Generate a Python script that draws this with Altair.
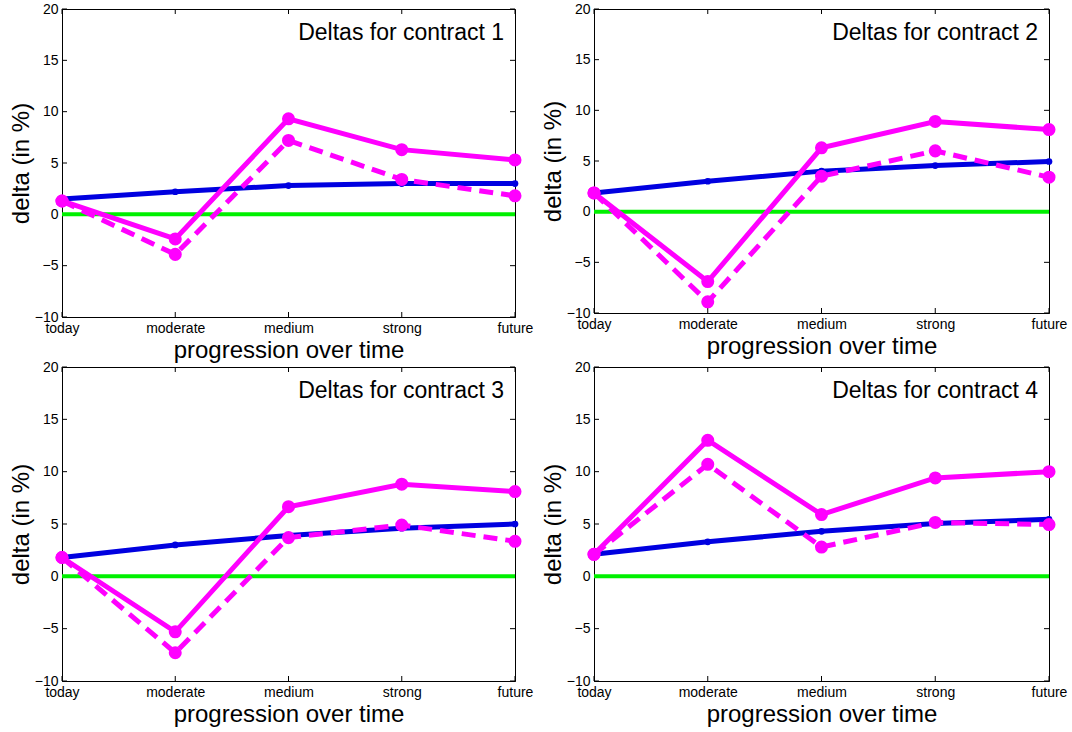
import altair as alt
import pandas as pd

stages = ["today", "moderate", "medium", "strong", "future"]
titles = ["Deltas for contract 1", "Deltas for contract 2",
          "Deltas for contract 3", "Deltas for contract 4"]

blue = [
    [1.5, 2.2, 2.8, 3.0, 3.0],
    [1.85, 3.0, 4.0, 4.55, 4.95],
    [1.8, 3.0, 3.9, 4.6, 5.0],
    [2.1, 3.3, 4.3, 5.05, 5.45],
]
solid = [
    [1.3, -2.4, 9.3, 6.3, 5.3],
    [1.85, -6.9, 6.3, 8.9, 8.1],
    [1.8, -5.3, 6.65, 8.8, 8.1],
    [2.1, 13.0, 5.9, 9.4, 10.0],
]
dashed = [
    [1.3, -3.9, 7.2, 3.4, 1.8],
    [1.85, -8.9, 3.5, 6.0, 3.4],
    [1.8, -7.3, 3.7, 4.9, 3.35],
    [2.1, 10.7, 2.8, 5.15, 4.95],
]
zero_line = [0, 0]
y_ticks = [-10, -5, 0, 5, 10, 15, 20]
x_ticks = [0, 1, 2, 3, 4]

FONT = "Liberation Sans"
BLUE = "#0000e0"
MAGENTA = "#ff00ff"
GREEN = "#00f000"

label_expr = "[" + ",".join("'%s'" % s for s in stages) + "][datum.value]"


def panel(i, w, h):
    rows = []
    for k in range(5):
        rows.append({"stage": k, "value": blue[i][k], "series": "blue"})
        rows.append({"stage": k, "value": solid[i][k], "series": "solid"})
        rows.append({"stage": k, "value": dashed[i][k], "series": "dashed"})
    df = pd.DataFrame(rows)
    zdf = pd.DataFrame({"stage": [0, 4], "value": zero_line})
    ydf = pd.DataFrame({"value": y_ticks})
    xdf = pd.DataFrame({"stage": x_ticks})

    X = alt.X("stage:Q",
              scale=alt.Scale(domain=[0, 4], nice=False, zero=False),
              axis=alt.Axis(values=x_ticks, labelExpr=label_expr,
                            title="progression over time", grid=False,
                            tickSize=0, labelPadding=4, labelFlush=False,
                            labelOverlap=False, minExtent=18, maxExtent=18,
                            titlePadding=3))
    Y = alt.Y("value:Q",
              scale=alt.Scale(domain=[-10, 20], nice=False, zero=False),
              axis=alt.Axis(values=y_ticks, title="delta (in %)", grid=False,
                            tickSize=0, labelPadding=4, labelFlush=False,
                            labelOverlap=False, minExtent=24, maxExtent=24,
                            titlePadding=5))

    green = alt.Chart(zdf).mark_line(color=GREEN, strokeWidth=4).encode(x=X, y=Y)

    bl = alt.Chart(df).transform_filter("datum.series == 'blue'")
    blue_line = bl.mark_line(color=BLUE, strokeWidth=5).encode(x=X, y=Y)
    blue_pts = bl.mark_circle(color=BLUE, size=45, opacity=1).encode(x=X, y=Y)

    so = alt.Chart(df).transform_filter("datum.series == 'solid'")
    solid_line = so.mark_line(color=MAGENTA, strokeWidth=5).encode(x=X, y=Y)
    solid_pts = so.mark_circle(color=MAGENTA, size=170, opacity=1).encode(x=X, y=Y)

    da = alt.Chart(df).transform_filter("datum.series == 'dashed'")
    dashed_line = da.mark_line(color=MAGENTA, strokeWidth=5,
                               strokeDash=[14, 8]).encode(x=X, y=Y)
    dashed_pts = da.mark_circle(color=MAGENTA, size=170, opacity=1).encode(x=X, y=Y)

    tick_l = alt.Chart(ydf).mark_rule(color="black", strokeWidth=1).encode(
        y=Y, x=alt.value(0), x2=alt.value(5))
    tick_r = alt.Chart(ydf).mark_rule(color="black", strokeWidth=1).encode(
        y=Y, x=alt.value(w), x2=alt.value(w - 5))
    tick_b = alt.Chart(xdf).mark_rule(color="black", strokeWidth=1).encode(
        x=X, y=alt.value(h), y2=alt.value(h - 5))
    tick_t = alt.Chart(xdf).mark_rule(color="black", strokeWidth=1).encode(
        x=X, y=alt.value(0), y2=alt.value(5))

    title = alt.Chart(pd.DataFrame({"t": [titles[i]]})).mark_text(
        align="right", baseline="alphabetic", fontSize=23, font=FONT,
        color="black").encode(text="t:N", x=alt.value(w - 11), y=alt.value(31))

    return alt.layer(tick_l, tick_r, tick_b, tick_t, green,
                     blue_line, blue_pts, solid_line, solid_pts,
                     dashed_line, dashed_pts, title).properties(width=w, height=h)


chart = alt.concat(
    panel(0, 453, 308), panel(1, 455, 304),
    panel(2, 453, 314), panel(3, 455, 314),
    columns=2, spacing={"row": 50, "column": 79}, bounds="flush",
).properties(
    padding={"left": 8, "top": 1, "right": 0, "bottom": 0},
    background="white",
).configure_view(
    stroke="black", strokeWidth=1
).configure_axis(
    domainColor="black", labelFont=FONT, labelFontSize=14, labelColor="black",
    titleFont=FONT, titleFontSize=24, titleFontWeight="normal", titleColor="black"
)

chart.save("out.html", embed_options={"renderer": "svg", "actions": False})
